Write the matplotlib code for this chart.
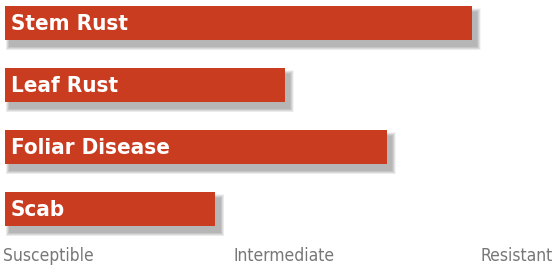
import matplotlib
matplotlib.use("Agg")
import matplotlib.pyplot as plt
from matplotlib.patches import Rectangle

# ratings on a 0 (susceptible) .. 10 (resistant) scale
diseases = ["Stem Rust", "Leaf Rust", "Foliar Disease", "Scab"]
ratings = [8.6, 5.15, 7.03, 3.87]
scale_labels = ["Susceptible", "Intermediate", "Resistant"]

bar_color = "#c93c1f"
narrow = ["Liberation Sans Narrow", "DejaVu Sans"]

fig = plt.figure(figsize=(5.53, 2.65), dpi=100)
ax = fig.add_axes([0, 0, 1, 1])
ax.set_xlim(-0.092, 10.092)
ax.set_ylim(265, 0)
ax.axis("off")

# one x unit in pixels, used for the shadow offset
px = 10.0 / 543

for i, (name, val) in enumerate(zip(diseases, ratings)):
    yc = 23 + i * 62
    h = 34
    # soft drop shadow: stacked translucent rectangles
    for k in range(8):
        grow = 8 - k
        ax.add_patch(Rectangle(((5 - grow * 0.5) * px, yc - h / 2 + 6 - grow * 0.5),
                               val + grow * px, h + grow,
                               color="black", alpha=0.04, lw=0, zorder=1))
    ax.barh(yc, val, height=h, left=0, color=bar_color, zorder=2)
    ax.text(6 * px, yc + 1, name, color="white", fontsize=16, fontweight="bold",
            family=narrow, fontstretch="condensed", va="center", ha="left", zorder=3)

# scale labels along the bottom
ax.text(-2 * px, 256, scale_labels[0], ha="left", va="center", fontsize=12.5,
        color="#777777", family=narrow, fontstretch="condensed")
ax.text(5.14, 256, scale_labels[1], ha="center", va="center", fontsize=12.5,
        color="#777777", family=narrow, fontstretch="condensed")
ax.text(10.08, 256, scale_labels[2], ha="right", va="center", fontsize=12.5,
        color="#777777", family=narrow, fontstretch="condensed")

fig.savefig("out.png", dpi=100)
